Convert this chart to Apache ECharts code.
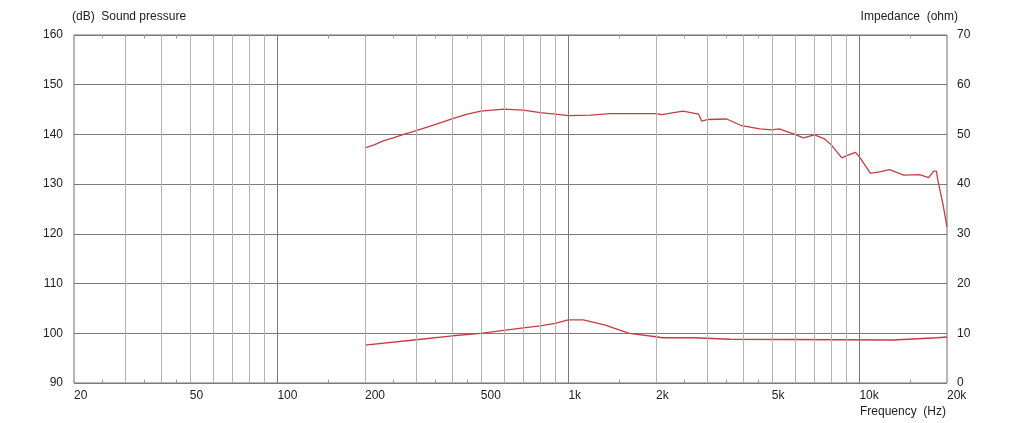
<!DOCTYPE html>
<html>
<head>
  <meta charset="utf-8">
  <title>Sound pressure / Impedance</title>
  <script src="https://cdn.jsdelivr.net/npm/echarts@6/dist/echarts.min.js"></script>
  <style>
    html, body { margin: 0; padding: 0; background: #fff; }
  </style>
</head>
<body>
<div id="main" style="width: 1022px;height:423px;"></div>
<script type="text/javascript">
  // curve data
  var splFreq = [200, 215, 231, 250, 275, 300, 350, 400, 450, 500, 600, 700, 800, 900, 1000, 1190, 1390, 2000, 2100, 2300, 2480, 2800, 2870, 3000, 3500, 3940, 4550, 5000, 5300, 6000, 6420, 7000, 7600, 8000, 8700, 9000, 9700, 10000, 10900, 11600, 12700, 14200, 16100, 17300, 18000, 18400, 18600, 19400, 20000];
  var splDb = [137.3, 137.9, 138.7, 139.3, 140.1, 140.75, 142.0, 143.2, 144.1, 144.7, 145.1, 144.9, 144.4, 144.1, 143.8, 143.9, 144.2, 144.2, 144.0, 144.4, 144.7, 144.1, 142.7, 143.0, 143.1, 141.75, 141.1, 140.9, 141.1, 140.0, 139.3, 139.9, 139.1, 137.9, 135.3, 135.7, 136.4, 135.5, 132.2, 132.4, 132.9, 131.8, 131.9, 131.3, 132.6, 132.6, 130.8, 125.8, 121.4];

  var impFreq = [200, 300, 400, 500, 600, 700, 800, 900, 1000, 1125, 1330, 1620, 2000, 2100, 2700, 2720, 3600, 3650, 13100, 13300, 18500, 20000];
  var impOhm = [7.6, 8.7, 9.5, 10.0, 10.6, 11.1, 11.5, 12.0, 12.7, 12.7, 11.7, 10.0, 9.3, 9.1, 9.1, 8.8, 8.8, 8.65, 8.65, 9.0, 9.1, 9.25];

  // frequency grid and labels
  var gridFreqs = [30, 40, 50, 60, 70, 80, 90, 100, 200, 300, 400, 500, 600, 700, 800, 900, 1000, 2000, 3000, 4000, 5000, 6000, 7000, 8000, 9000, 10000];
  var decadeFreqs = [100, 1000, 10000];
  var minorFreqs = [25, 35, 45, 150, 250, 350, 450, 1500, 2500, 3500, 4500, 15000];
  var labelFreqs = [20, 50, 100, 200, 500, 1000, 2000, 5000, 10000, 20000];
  var labelTexts = ['20', '50', '100', '200', '500', '1k', '2k', '5k', '10k', '20k'];

  var FONT = "'Liberation Sans', Arial, sans-serif";
  var RED = '#c63c44';
  var INK = '#222';

  var chartDom = document.getElementById('main');
  var myChart = echarts.init(chartDom);

  function pairs(xs, ys) {
    return xs.map(function (x, i) { return [x, ys[i]]; });
  }

  var gridLines = gridFreqs.map(function (f) {
    var major = decadeFreqs.indexOf(f) >= 0;
    return {
      xAxis: f,
      lineStyle: { color: major ? '#7a7a7a' : '#b4b4b4', width: 1, type: 'solid' }
    };
  });
  minorFreqs.forEach(function (f) {
    gridLines.push([{ coord: [f, 90] }, { coord: [f, 90.7] }]);
    gridLines.push([{ coord: [f, 160] }, { coord: [f, 159.3] }]);
  });

  var titleStyle = { fontSize: 12, fontWeight: 'normal', color: INK, fontFamily: FONT };

  var option = {
    animation: false,
    backgroundColor: '#fff',
    textStyle: { fontFamily: FONT },
    title: [
      { text: '(dB)  Sound pressure', left: 72, top: 11, padding: 0, textStyle: titleStyle },
      { text: 'Impedance  (ohm)', right: 64, top: 11, padding: 0, textStyle: titleStyle },
      { text: 'Frequency  (Hz)', right: 76, top: 406, padding: 0, textStyle: titleStyle }
    ],
    grid: {
      left: 74, right: 75, top: 35, bottom: 40,
      show: true, borderColor: '#6e6e6e', borderWidth: 1, backgroundColor: 'transparent'
    },
    xAxis: {
      type: 'log', logBase: 10, min: 20, max: 20000,
      axisLine: { show: false },
      axisTick: { show: false },
      axisLabel: { show: false },
      splitLine: { show: false },
      minorSplitLine: { show: false }
    },
    yAxis: [
      {
        type: 'value', min: 90, max: 160, interval: 10,
        axisLine: { show: false },
        axisTick: { show: false },
        axisLabel: { margin: 11, fontSize: 12, color: INK, fontFamily: FONT },
        splitLine: { show: true, lineStyle: { color: '#7a7a7a', width: 1 } }
      },
      {
        type: 'value', min: 0, max: 70, interval: 10, position: 'right',
        axisLine: { show: false },
        axisTick: { show: false },
        axisLabel: { margin: 10, fontSize: 12, color: INK, fontFamily: FONT },
        splitLine: { show: false }
      }
    ],
    series: [
      {
        name: 'grid',
        type: 'line',
        data: [],
        z: 1,
        silent: true,
        markLine: {
          silent: true,
          symbol: ['none', 'none'],
          label: { show: false },
          lineStyle: { color: '#9a9a9a', width: 1, type: 'solid' },
          emphasis: { disabled: true },
          data: gridLines
        }
      },
      {
        name: 'labels',
        type: 'scatter',
        symbolSize: 0,
        clip: false,
        silent: true,
        itemStyle: { opacity: 1, color: INK },
        data: labelFreqs.map(function (f) { return [f, 90]; }),
        label: {
          show: true,
          position: 'bottom',
          distance: 7,
          align: 'left',
          fontSize: 12,
          color: INK,
          opacity: 1,
          fontFamily: FONT,
          formatter: function (p) { return labelTexts[p.dataIndex]; }
        }
      },
      {
        name: 'Sound pressure',
        type: 'line',
        yAxisIndex: 0,
        showSymbol: false,
        symbol: 'none',
        z: 3,
        lineStyle: { color: RED, width: 1.3 },
        data: pairs(splFreq, splDb)
      },
      {
        name: 'Impedance',
        type: 'line',
        yAxisIndex: 1,
        showSymbol: false,
        symbol: 'none',
        z: 3,
        lineStyle: { color: RED, width: 1.3 },
        data: pairs(impFreq, impOhm)
      }
    ]
  };

  myChart.setOption(option);
</script>
</body>
</html>
